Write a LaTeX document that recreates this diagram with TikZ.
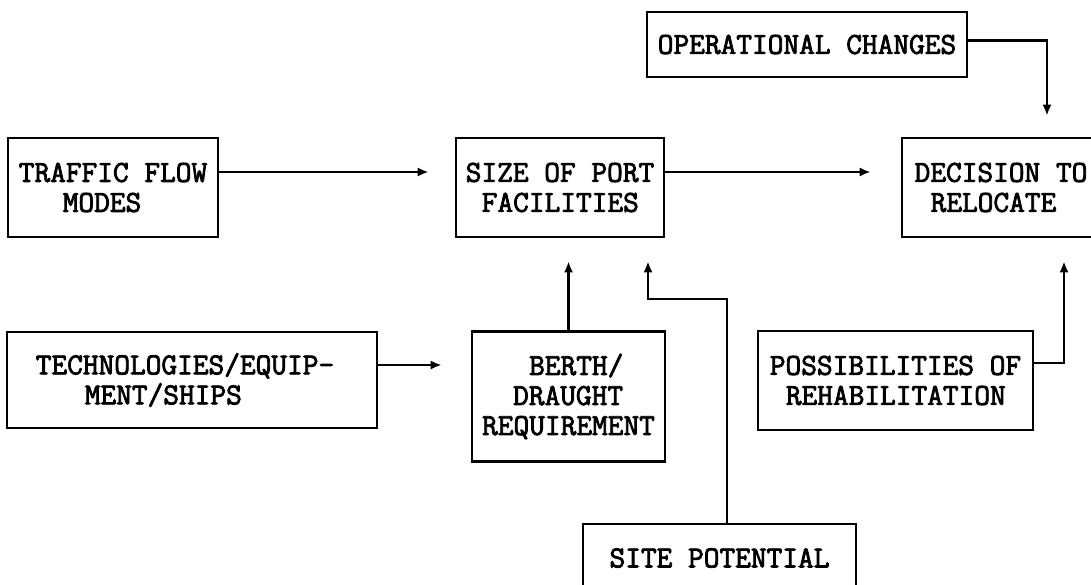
\documentclass[tikz,border=0pt]{standalone}
\usepackage{fontspec}
\newfontfamily\tw[FakeBold=2.6]{Latin Modern Mono}
\usetikzlibrary{arrows.meta}
\begin{document}
\begin{tikzpicture}[x=1pt,y=1pt,
  box/.style={draw, line width=2.6pt, inner sep=0pt, align=left,
    font=\tw\fontsize{30.5pt}{30pt}\selectfont},
  arr/.style={line width=2.6pt, -{Latex[length=11pt,width=9pt]}}]
\useasboundingbox (0,0) rectangle (1091,-584);
\node[box, minimum width=210pt, minimum height=99pt] (traffic) at (113,-187.5)
  {TRAFFIC FLOW\\\hspace*{44pt}MODES};
\node[box, minimum width=208pt, minimum height=99pt] (size) at (560,-187.5)
  {SIZE OF PORT\\\hspace*{16pt}FACILITIES};
\node[box, minimum width=198pt, minimum height=99pt] (decision) at (1001,-187.5)
  {DECISION TO\\\hspace*{16pt}RELOCATE};
\node[box, minimum width=320pt, minimum height=65pt] (oper) at (807,-44.5)
  {OPERATIONAL CHANGES};
\node[box, minimum width=370pt, minimum height=96pt] (tech) at (192,-380)
  {TECHNOLOGIES/EQUIP-\hbox to 14pt{}\\\hspace*{49pt}MENT/SHIPS};
\node[box, minimum width=193pt, minimum height=130pt] (berth) at (568.5,-396.5)
  {\hspace*{47pt}BERTH/\\\hspace*{31pt}DRAUGHT\\REQUIREMENT};
\node[box, minimum width=275pt, minimum height=99pt] (poss) at (895.5,-380.5)
  {POSSIBILITIES OF\\\hspace*{16pt}REHABILITATION};
\node[box, minimum width=273pt, minimum height=68pt] (site) at (719.5,-558)
  {SITE POTENTIAL};
\coordinate (bend) at (648,-299);
\draw[arr, shorten >=26pt] ([yshift=15.5pt]traffic.east) -- ([yshift=15.5pt]size.west);
\draw[arr, shorten >=30pt] ([yshift=15.5pt]size.east) -- ([yshift=15.5pt]decision.west);
\draw[arr, shorten >=21pt] ([yshift=4pt]oper.east) -| ([xshift=46pt]decision.north);
\draw[arr, shorten >=29pt] ([yshift=15pt]tech.east) coordinate (t1) -- (berth.west |- t1);
\draw[arr, shorten >=23pt] (berth.north) -- (berth.north |- size.south);
\draw[arr, shorten >=23pt] ([xshift=7.5pt]site.north) |- (bend) -- (bend |- size.south);
\draw[arr, shorten >=23pt] ([yshift=17.5pt]poss.east) -| ([xshift=63pt]decision.south);
\end{tikzpicture}
\end{document}
